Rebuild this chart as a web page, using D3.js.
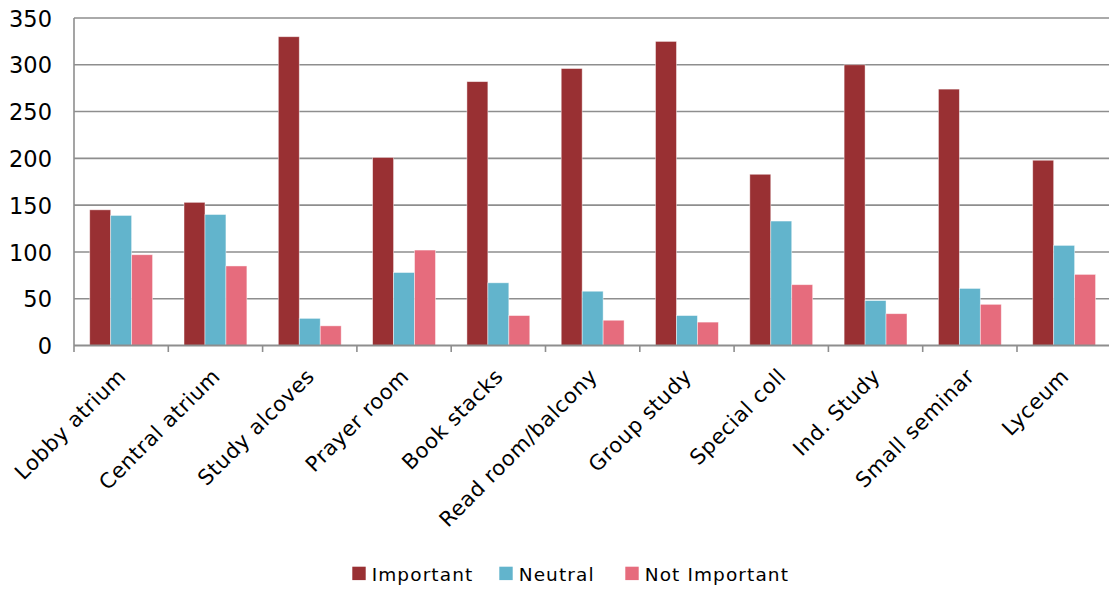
<!DOCTYPE html>
<html>
<head>
<meta charset="utf-8">
<script src="https://cdn.jsdelivr.net/npm/d3@7"></script>
<style>
  html, body { margin: 0; padding: 0; background: #fff; }
  svg { display: block; }
  text { font-family: "Century Gothic", "URW Gothic", "DejaVu Sans", sans-serif; fill: #000; }
</style>
</head>
<body>
<svg id="chart" width="1109" height="590"></svg>
<script>
// Survey responses: how important each library space is
const categories = ["Lobby atrium", "Central atrium", "Study alcoves", "Prayer room", "Book stacks",
  "Read room/balcony", "Group study", "Special coll", "Ind. Study", "Small seminar", "Lyceum"];
const seriesNames = ["Important", "Neutral", "Not Important"];
const important    = [145, 153, 330, 201, 282, 296, 325, 183, 300, 274, 198];
const neutral      = [139, 140, 29, 78, 67, 58, 32, 133, 48, 61, 107];
const notImportant = [97, 85, 21, 102, 32, 27, 25, 65, 34, 44, 76];
const yTicks = [0, 50, 100, 150, 200, 250, 300, 350];
const colors = ["#993033", "#62B4CC", "#E66C7D"];

const seriesValues = [important, neutral, notImportant];
const rows = categories.map((c, i) => ({
  category: c,
  values: seriesNames.map((s, j) => ({ series: s, value: seriesValues[j][i] }))
}));

const svg = d3.select("#chart");
const plotLeft = 74, plotTop = 18, plotBottom = 345.5, bandW = 94.3;
const plotRight = plotLeft + bandW * categories.length;
const gridColor = "#8e8e8e";

const x = d3.scaleBand().domain(categories).range([plotLeft, plotRight]).padding(0);
// 150% gap: the three bars share 3/4.5 of each band, centred
const bw = x.bandwidth();
const inner = d3.scaleBand().domain(seriesNames)
  .range([bw * 0.75 / 4.5, bw * 3.75 / 4.5]).padding(0);
const y = d3.scaleLinear().domain([0, 350]).range([plotBottom, plotTop]);

// horizontal gridlines
svg.append("g").selectAll("line")
  .data(yTicks.filter(d => d > 0))
  .join("line")
  .attr("x1", plotLeft).attr("x2", 1109)
  .attr("y1", d => y(d)).attr("y2", d => y(d))
  .attr("stroke", gridColor).attr("stroke-width", 1.6);

// bars
const groups = svg.append("g").selectAll("g")
  .data(rows).join("g")
  .attr("transform", d => `translate(${x(d.category)},0)`);
groups.selectAll("rect")
  .data(d => d.values)
  .join("rect")
  .attr("x", d => inner(d.series))
  .attr("width", inner.bandwidth())
  .attr("y", d => y(d.value))
  .attr("height", d => y(0) - y(d.value))
  .attr("fill", (d, i) => colors[i])
  .attr("stroke", "rgba(255,255,255,0.55)")
  .attr("stroke-width", 0.8);

// y axis
const yAxis = d3.axisLeft(y).tickValues(yTicks).tickSize(0).tickPadding(22);
const gy = svg.append("g").attr("transform", `translate(${plotLeft},0)`).call(yAxis);
gy.select(".domain").remove();
gy.attr("font-family", null).attr("font-size", null);
gy.selectAll("text")
  .attr("font-size", 22.5)
  .attr("dy", "0.36em");
svg.append("line")
  .attr("x1", plotLeft).attr("x2", plotLeft).attr("y1", plotTop).attr("y2", plotBottom + 6.5)
  .attr("stroke", gridColor).attr("stroke-width", 1.6);

// x axis baseline and boundary ticks
svg.append("line")
  .attr("x1", plotLeft).attr("x2", 1109).attr("y1", plotBottom).attr("y2", plotBottom)
  .attr("stroke", gridColor).attr("stroke-width", 1.8);
svg.append("g").selectAll("line")
  .data(d3.range(1, categories.length + 1))
  .join("line")
  .attr("x1", i => plotLeft + i * bandW).attr("x2", i => plotLeft + i * bandW)
  .attr("y1", plotBottom).attr("y2", plotBottom + 6.5)
  .attr("stroke", gridColor).attr("stroke-width", 1.6);

// rotated category labels
svg.append("g").selectAll("text")
  .data(categories)
  .join("text")
  .attr("text-anchor", "end")
  .attr("font-size", 21)
  .attr("letter-spacing", 0.6)
  .attr("transform", d => `translate(${x(d) + bw / 2 + 6},${plotBottom + 32}) rotate(-45)`)
  .text(d => d);

// legend
const legendX = [352.3, 499.3, 625.3];
const legend = svg.append("g").selectAll("g")
  .data(seriesNames).join("g")
  .attr("transform", (d, i) => `translate(${legendX[i]},566.7)`);
legend.append("rect")
  .attr("width", 13.4).attr("height", 13.4)
  .attr("fill", (d, i) => colors[i]);
legend.append("text")
  .attr("x", 19.4).attr("y", 14.2)
  .attr("font-size", 18.5)
  .attr("letter-spacing", 1.1)
  .text(d => d);
</script>
</body>
</html>
